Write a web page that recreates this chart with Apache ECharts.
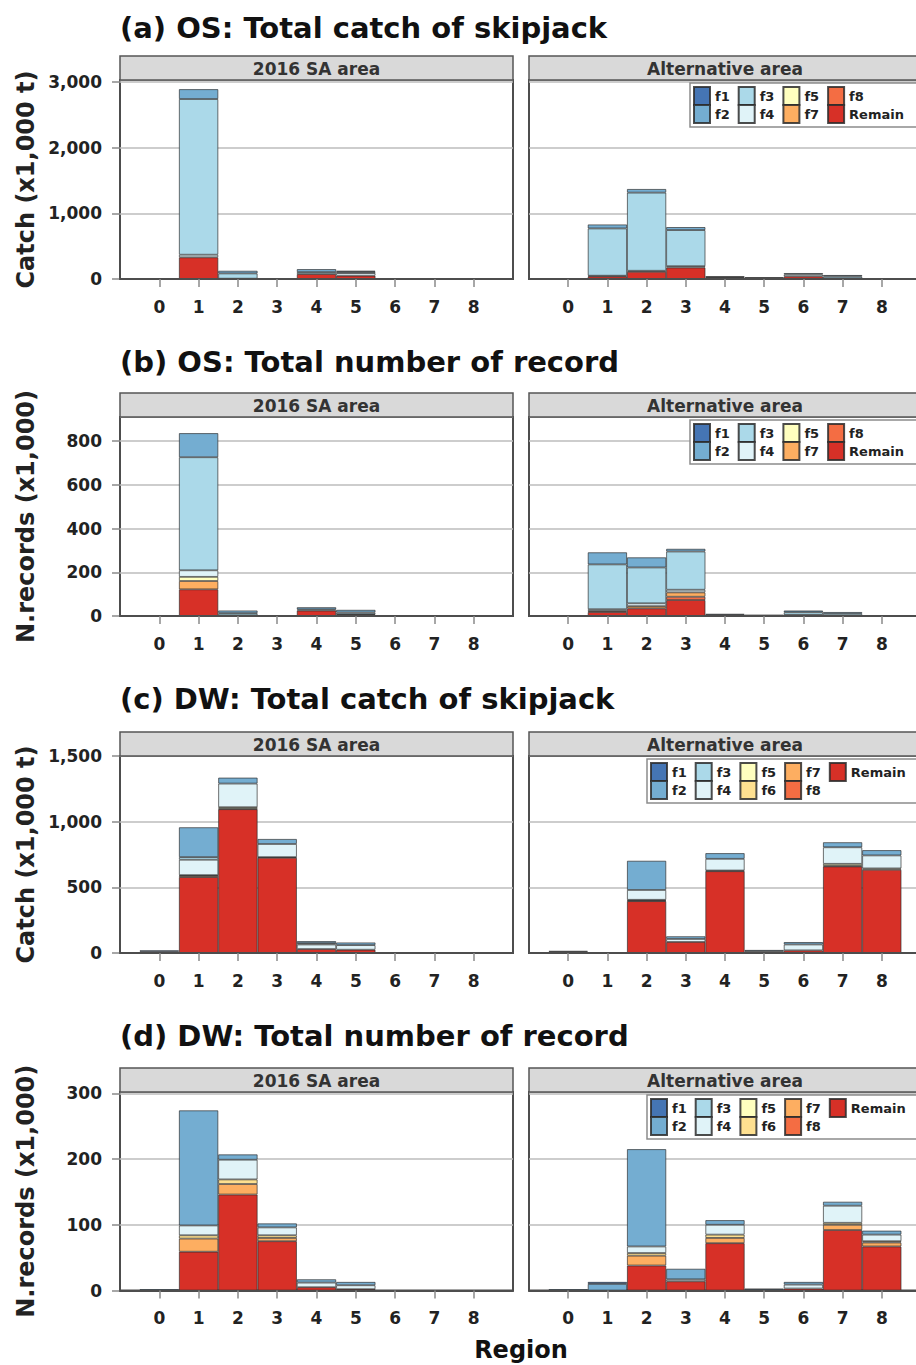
<!DOCTYPE html>
<html>
<head>
<meta charset="utf-8">
<script src="https://cdn.jsdelivr.net/npm/echarts@6/dist/echarts.min.js"></script>
<style>
  html, body { margin: 0; padding: 0; background: #ffffff; }
  #chart { width: 916px; height: 1365px; }
</style>
</head>
<body>
<div id="chart"></div>
<script>
// Regions on the x axis (an empty slot is kept on each side of 0..8)
const regions = ['0', '1', '2', '3', '4', '5', '6', '7', '8'];
const seriesNames = ['f1', 'f2', 'f3', 'f4', 'f5', 'f6', 'f7', 'f8', 'Remain'];
const seriesColors = ['#4575b4', '#74add1', '#abd9e9', '#e0f3f8', '#ffffbf', '#fee090', '#fdae61', '#f46d43', '#d73027'];

// Every panel: one row per entry of seriesNames (f1..f8, Remain), one column per region 0..8
// (a) OS catch (x1,000 t)
const osCatchSA = [
  [0, 0, 0, 0, 0, 0, 0, 0, 0],
  [0, 150, 40, 0, 45, 15, 0, 0, 0],
  [0, 2370, 80, 0, 30, 20, 0, 0, 0],
  [0, 40, 0, 0, 0, 40, 0, 0, 0],
  [0, 0, 0, 0, 0, 0, 0, 0, 0],
  [0, 0, 0, 0, 0, 0, 0, 0, 0],
  [0, 0, 0, 0, 0, 0, 0, 0, 0],
  [0, 0, 0, 0, 0, 0, 0, 0, 0],
  [0, 330, 5, 0, 75, 50, 0, 0, 0]
];
const osCatchAlt = [
  [0, 0, 0, 0, 0, 0, 0, 0, 0],
  [0, 60, 55, 45, 10, 10, 0, 20, 0],
  [0, 720, 1190, 550, 15, 10, 20, 30, 0],
  [0, 10, 15, 20, 0, 0, 30, 10, 0],
  [0, 0, 0, 0, 0, 0, 0, 0, 0],
  [0, 0, 0, 0, 0, 0, 0, 0, 0],
  [0, 0, 0, 0, 0, 0, 0, 0, 0],
  [0, 0, 0, 0, 0, 0, 0, 0, 0],
  [0, 40, 110, 175, 15, 5, 40, 0, 0]
];
// (b) OS number of records (x1,000)
const osRecordSA = [
  [0, 0, 0, 0, 0, 0, 0, 0, 0],
  [0, 110, 12, 0, 10, 12, 0, 0, 0],
  [0, 517, 10, 0, 5, 8, 0, 0, 0],
  [0, 30, 0, 0, 0, 3, 0, 0, 0],
  [0, 19, 0, 0, 0, 0, 0, 0, 0],
  [0, 0, 0, 0, 0, 0, 0, 0, 0],
  [0, 38, 0, 0, 0, 0, 0, 0, 0],
  [0, 0, 0, 0, 0, 0, 0, 0, 0],
  [0, 122, 3, 0, 25, 5, 0, 0, 0]
];
const osRecordAlt = [
  [0, 0, 0, 0, 0, 0, 0, 0, 0],
  [0, 55, 46, 12, 5, 3, 8, 8, 2],
  [0, 205, 164, 175, 5, 2, 12, 10, 1],
  [0, 8, 13, 12, 0, 0, 5, 0, 0],
  [0, 0, 0, 0, 0, 0, 0, 0, 0],
  [0, 0, 0, 0, 0, 0, 0, 0, 0],
  [0, 5, 10, 20, 0, 0, 0, 0, 0],
  [0, 0, 0, 15, 0, 0, 0, 0, 0],
  [0, 18, 35, 73, 0, 0, 0, 0, 0]
];
// (c) DW catch (x1,000 t)
const dwCatchSA = [
  [10, 0, 0, 0, 0, 0, 0, 0, 0],
  [10, 227, 45, 38, 15, 20, 0, 0, 0],
  [0, 20, 0, 0, 10, 0, 0, 0, 0],
  [0, 117, 180, 100, 35, 35, 0, 0, 0],
  [0, 5, 10, 5, 0, 0, 0, 0, 0],
  [0, 0, 0, 0, 0, 0, 0, 0, 0],
  [0, 10, 5, 0, 0, 0, 0, 0, 0],
  [0, 0, 0, 0, 0, 0, 0, 0, 0],
  [0, 578, 1095, 725, 30, 25, 0, 0, 0]
];
const dwCatchAlt = [
  [5, 0, 0, 0, 0, 0, 0, 0, 0],
  [10, 3, 222, 20, 43, 10, 18, 38, 40],
  [0, 0, 0, 0, 0, 0, 0, 0, 0],
  [0, 0, 75, 23, 89, 10, 45, 126, 99],
  [0, 0, 5, 0, 5, 0, 0, 15, 10],
  [0, 0, 0, 0, 0, 0, 0, 0, 0],
  [0, 0, 5, 0, 0, 0, 0, 5, 0],
  [0, 0, 0, 0, 0, 0, 0, 0, 0],
  [0, 0, 395, 84, 623, 3, 20, 659, 634]
];
// (d) DW number of records (x1,000)
const dwRecordSA = [
  [0, 0, 0, 0, 0, 0, 0, 0, 0],
  [2, 175, 8, 6, 5, 5, 0, 0, 0],
  [0, 0, 0, 0, 0, 0, 0, 0, 0],
  [0, 15, 30, 12, 7, 6, 0, 0, 0],
  [0, 0, 0, 0, 0, 0, 0, 0, 0],
  [0, 5, 7, 4, 0, 0, 0, 0, 0],
  [0, 20, 16, 5, 0, 0, 0, 0, 0],
  [0, 0, 0, 0, 0, 0, 0, 0, 0],
  [0, 59, 146, 75, 5, 2, 0, 0, 0]
];
const dwRecordAlt = [
  [0, 3, 0, 0, 0, 0, 0, 0, 0],
  [2, 10, 148, 16, 7, 2, 4, 6, 6],
  [0, 0, 0, 0, 0, 0, 0, 0, 0],
  [0, 0, 10, 3, 15, 1, 6, 26, 10],
  [0, 0, 0, 0, 0, 0, 0, 0, 0],
  [0, 0, 4, 0, 5, 0, 0, 3, 2],
  [0, 0, 15, 0, 8, 0, 0, 8, 6],
  [0, 0, 0, 0, 0, 0, 0, 0, 0],
  [0, 0, 38, 14, 72, 0, 3, 92, 67]
];

const panelTitles = [
  '(a) OS: Total catch of skipjack',
  '(b) OS: Total number of record',
  '(c) DW: Total catch of skipjack',
  '(d) DW: Total number of record'
];
const stripLabels = ['2016 SA area', 'Alternative area'];
const yAxisTitles = ['Catch (x1,000 t)', 'N.records (x1,000)', 'Catch (x1,000 t)', 'N.records (x1,000)'];
const xAxisTitle = 'Region';
const yMax = [3030, 910, 1500, 302];
const yStep = [1000, 200, 500, 100];
// legend rows (two lines per legend box)
const legendRowsOS = [['f1', 'f3', 'f5', 'f8'], ['f2', 'f4', 'f7', 'Remain']];
const legendRowsDW = [['f1', 'f3', 'f5', 'f7', 'Remain'], ['f2', 'f4', 'f6', 'f8']];

const panelData = [
  [osCatchSA, osCatchAlt],
  [osRecordSA, osRecordAlt],
  [dwCatchSA, dwCatchAlt],
  [dwRecordSA, dwRecordAlt]
];

// ---- layout ----
const FONT = '"DejaVu Sans", "Liberation Sans", sans-serif';
const INK = '#222222';
const plotTop = [80, 417, 756, 1092];
const plotHeight = [199, 199, 197, 198.5];
const plotLeft = [120, 529];
const plotWidth = [393, 392];
const stripH = 24;
const titleY = [28, 362, 699, 1036];
const legendLeft = [690, 647];

const xCats = ['-1'].concat(regions, ['9']);
const isRegionIndex = (idx) => idx >= 1 && idx <= regions.length;
const fmtThousands = (v) => Number(v).toLocaleString('en-US');

const grids = [], xAxes = [], yAxes = [], series = [], legends = [], graphics = [];

for (let r = 0; r < 4; r++) {
  for (let c = 0; c < 2; c++) {
    const g = r * 2 + c;
    const left = c === 0;
    grids.push({
      left: plotLeft[c], top: plotTop[r], width: plotWidth[c], height: plotHeight[r],
      show: true, backgroundColor: '#ffffff', borderColor: '#4d4d4d', borderWidth: 2,
      containLabel: false, outerBoundsMode: 'none'
    });
    xAxes.push({
      type: 'category', gridIndex: g, data: xCats, boundaryGap: false, z: 3,
      axisLine: { show: true, lineStyle: { color: '#4d4d4d', width: 2 } },
      axisTick: { show: true, interval: isRegionIndex, length: 8, lineStyle: { color: '#8a8a8a', width: 1.5 } },
      axisLabel: {
        interval: isRegionIndex, margin: 19, color: INK,
        fontFamily: FONT, fontWeight: 'bold', fontSize: 17
      },
      splitLine: { show: false }
    });
    yAxes.push({
      type: 'value', gridIndex: g, min: 0, max: yMax[r], interval: yStep[r],
      name: left ? yAxisTitles[r] : '', nameLocation: 'middle', nameRotate: 90, nameGap: 82,
      nameTextStyle: { fontFamily: FONT, fontWeight: 'bold', fontSize: 24, color: INK },
      axisLine: { show: false },
      axisTick: { show: left, length: 8, lineStyle: { color: '#8a8a8a', width: 1.5 } },
      axisLabel: {
        show: left, margin: 18, color: INK, fontFamily: FONT, fontWeight: 'bold', fontSize: 17,
        showMaxLabel: yMax[r] % yStep[r] === 0, formatter: fmtThousands
      },
      splitLine: { show: true, lineStyle: { color: '#bdbdbd', width: 1.5 } }
    });
    // stacked from the bottom: Remain, f8, ..., f1
    const rows = panelData[r][c];
    for (let s = seriesNames.length - 1; s >= 0; s--) {
      series.push({
        type: 'bar', name: seriesNames[s], xAxisIndex: g, yAxisIndex: g, stack: 'panel' + g,
        barCategoryGap: '0%',
        data: [null].concat(rows[s].map(v => (v > 0 ? v : null)), [null]),
        itemStyle: { color: seriesColors[s], borderColor: 'rgba(45,45,45,0.85)', borderWidth: 0.8 },
        emphasis: { disabled: true },
        animation: false
      });
    }
    // facet strip on top of each panel
    graphics.push({
      type: 'rect', z: 10,
      shape: { x: plotLeft[c], y: plotTop[r] - stripH, width: plotWidth[c], height: stripH },
      style: { fill: '#d9d9d9', stroke: '#555555', lineWidth: 1.5 }
    });
    graphics.push({
      type: 'text', z: 11,
      x: plotLeft[c] + plotWidth[c] / 2, y: plotTop[r] - stripH / 2 + 1,
      style: {
        text: stripLabels[c], fill: '#333333', font: 'bold 17px ' + FONT,
        align: 'center', verticalAlign: 'middle'
      }
    });
  }
  // panel title
  graphics.push({
    type: 'text', z: 11, x: 120, y: titleY[r],
    style: { text: panelTitles[r], fill: '#111111', font: 'bold 29px ' + FONT, align: 'left', verticalAlign: 'middle' }
  });
  // legend box in the right-hand panel
  const legendRows = r < 2 ? legendRowsOS : legendRowsDW;
  const lx = legendLeft[r < 2 ? 0 : 1];
  const boxTop = plotTop[r] + 3;
  graphics.push({
    type: 'rect', z: 5,
    shape: { x: lx, y: boxTop, width: 320, height: 44 },
    style: { fill: '#ffffff', stroke: '#8c8c8c', lineWidth: 1.5 }
  });
  legendRows.forEach((names, k) => {
    legends.push({
      show: true, data: names, orient: 'horizontal', left: lx + 3, top: boxTop + 3 + k * 18,
      itemWidth: 16, itemHeight: 18, itemGap: 8, padding: 0, icon: 'rect',
      selectedMode: false, z: 6,
      textStyle: { fontFamily: FONT, fontWeight: 'bold', fontSize: 13, color: INK }
    });
  });
}

graphics.push({
  type: 'text', z: 11, x: 521, y: 1350,
  style: { text: xAxisTitle, fill: '#111111', font: 'bold 24px ' + FONT, align: 'center', verticalAlign: 'middle' }
});

const chart = echarts.init(document.getElementById('chart'), null, { renderer: 'svg' });
chart.setOption({
  animation: false,
  backgroundColor: '#ffffff',
  grid: grids,
  xAxis: xAxes,
  yAxis: yAxes,
  legend: legends,
  series: series,
  graphic: graphics,
  tooltip: { show: false }
});
</script>
</body>
</html>
